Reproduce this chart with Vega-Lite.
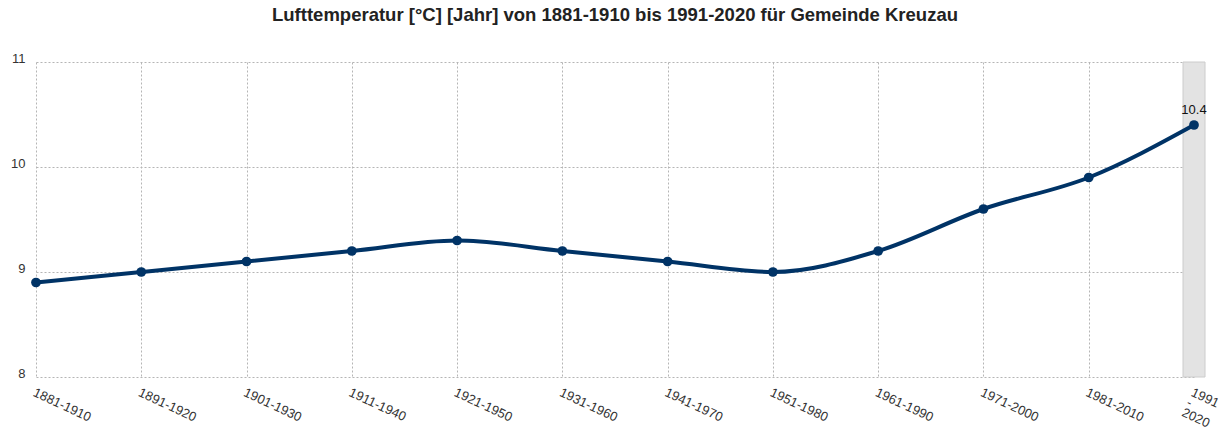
{
  "$schema": "https://vega.github.io/schema/vega-lite/v6.json",
  "autosize": "none",
  "width": 1158,
  "height": 315,
  "padding": {"left": 36, "top": 62, "right": 32, "bottom": 55},
  "background": "white",
  "config": {
    "font": "Liberation Sans",
    "view": {"stroke": null}
  },
  "title": {
    "text": "Lufttemperatur [°C] [Jahr] von 1881-1910 bis 1991-2020 für Gemeinde Kreuzau",
    "fontSize": 18.5,
    "fontWeight": "bold",
    "color": "#222222",
    "anchor": "middle",
    "offset": 28
  },
  "layer": [
    {
      "data": {"values": [{"zeitraum": "1991-2020", "lo": 8, "hi": 11}]},
      "mark": {"type": "bar", "size": 22, "fill": "#e3e3e3", "stroke": "#cccccc", "strokeWidth": 1},
      "encoding": {
        "x": {"field": "zeitraum", "type": "ordinal"},
        "y": {"field": "lo", "type": "quantitative"},
        "y2": {"field": "hi"}
      }
    },
    {
      "data": {"values": [
        {"zeitraum": "1881-1910", "temp": 8.9},
        {"zeitraum": "1891-1920", "temp": 9.0},
        {"zeitraum": "1901-1930", "temp": 9.1},
        {"zeitraum": "1911-1940", "temp": 9.2},
        {"zeitraum": "1921-1950", "temp": 9.3},
        {"zeitraum": "1931-1960", "temp": 9.2},
        {"zeitraum": "1941-1970", "temp": 9.1},
        {"zeitraum": "1951-1980", "temp": 9.0},
        {"zeitraum": "1961-1990", "temp": 9.2},
        {"zeitraum": "1971-2000", "temp": 9.6},
        {"zeitraum": "1981-2010", "temp": 9.9},
        {"zeitraum": "1991-2020", "temp": 10.4}
      ]},
      "encoding": {
        "x": {
          "field": "zeitraum",
          "type": "ordinal",
          "sort": null,
          "scale": {"type": "point", "padding": 0},
          "axis": {
            "title": null,
            "grid": true,
            "gridColor": "#b5b5b5",
            "gridDash": [2, 2],
            "gridWidth": 1,
            "domain": false,
            "ticks": false,
            "labelAngle": 25,
            "labelAlign": "left",
            "labelBaseline": "top",
            "labelPadding": 9,
            "labelFontSize": 13,
            "labelLineHeight": 11,
            "labelColor": "#333333",
            "labelExpr": "datum.value == '1991-2020' ? ['1991', '-', '2020'] : datum.value"
          }
        },
        "y": {
          "field": "temp",
          "type": "quantitative",
          "scale": {"domain": [8, 11], "nice": false, "zero": false},
          "axis": {
            "title": null,
            "values": [8, 9, 10, 11],
            "format": "d",
            "grid": true,
            "gridColor": "#b5b5b5",
            "gridDash": [2, 2],
            "gridWidth": 1,
            "domain": false,
            "ticks": false,
            "labelPadding": 11,
            "labelFontSize": 13,
            "labelColor": "#333333",
            "labelBaseline": "alphabetic",
            "labelFlush": false
          }
        }
      },
      "layer": [
        {
          "mark": {"type": "line", "interpolate": "monotone", "color": "#003366", "strokeWidth": 4}
        },
        {
          "mark": {"type": "point", "filled": true, "opacity": 1, "size": 95, "color": "#003366"}
        },
        {
          "transform": [{"filter": "datum.zeitraum == '1991-2020'"}],
          "mark": {"type": "text", "dy": -15, "fontSize": 13, "color": "#111111"},
          "encoding": {"text": {"field": "temp", "type": "quantitative", "format": ".1f"}}
        }
      ]
    }
  ]
}
